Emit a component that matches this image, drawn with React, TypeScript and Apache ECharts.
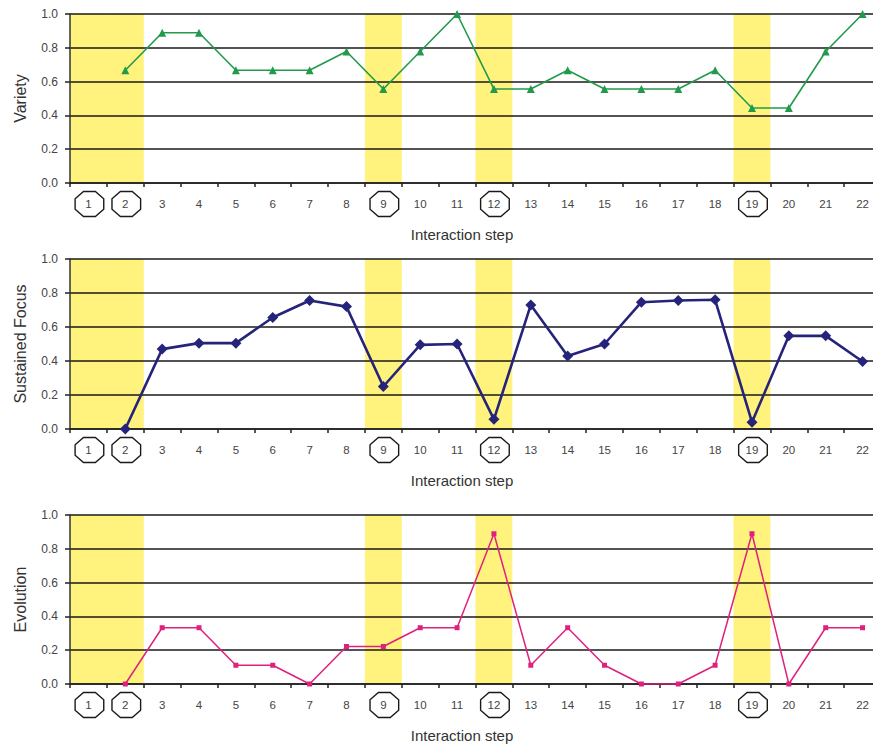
import React, { useEffect, useRef } from "react";
import * as echarts from "echarts";

const steps = ["1","2","3","4","5","6","7","8","9","10","11","12","13","14","15","16","17","18","19","20","21","22"];
const highlighted = ["1", "2", "9", "12", "19"];
const circled = ["1", "2", "9", "12", "19"];
const yTicks = [0, 0.2, 0.4, 0.6, 0.8, 1.0];

const variety = [null, 0.667, 0.889, 0.889, 0.667, 0.667, 0.667, 0.778, 0.556, 0.778, 1.0, 0.556, 0.556, 0.667, 0.556, 0.556, 0.556, 0.667, 0.444, 0.444, 0.778, 1.0];
const sustainedFocus = [null, 0.0, 0.47, 0.505, 0.505, 0.656, 0.756, 0.72, 0.25, 0.495, 0.5, 0.057, 0.73, 0.43, 0.5, 0.746, 0.756, 0.76, 0.04, 0.548, 0.548, 0.397];
const evolution = [null, 0.0, 0.333, 0.333, 0.111, 0.111, 0.0, 0.222, 0.222, 0.333, 0.333, 0.889, 0.111, 0.333, 0.111, 0.0, 0.0, 0.111, 0.889, 0.0, 0.333, 0.333];

const panelNames = ["Variety", "Sustained Focus", "Evolution"];
const xTitle = "Interaction step";

const FONT = "'Liberation Sans', Arial, sans-serif";
const YELLOW = "#fff27d";

export default function App() {
  const ref = useRef<HTMLDivElement>(null);
  useEffect(() => {
    if (!ref.current) return;
    const chart = echarts.init(ref.current, null, { renderer: "svg" });
    const grids = [
      { left: 70, right: 0, top: 14, height: 169 },
      { left: 70, right: 0, top: 259, height: 170 },
      { left: 70, right: 0, top: 515, height: 169 },
    ];
    const seriesDefs = [
      { data: variety, color: "#229a4c", symbol: "triangle", size: 8, width: 1.6 },
      { data: sustainedFocus, color: "#25247a", symbol: "diamond", size: 11, width: 2.6 },
      { data: evolution, color: "#e0207f", symbol: "rect", size: 5, width: 1.5 },
    ];
    const xAxes = grids.map((_, i) => ({
      type: "category",
      gridIndex: i,
      data: steps,
      boundaryGap: true,
      axisLine: { show: true, lineStyle: { color: "#222", width: 1.5 } },
      axisTick: { show: true, length: 4, lineStyle: { color: "#222", width: 1.5 } },
      axisLabel: { margin: 15, fontSize: 11.5, color: "#444", fontFamily: FONT },
      splitLine: { show: false },
      name: xTitle,
      nameLocation: "middle",
      nameGap: 44,
      nameTextStyle: { fontSize: 15, color: "#333", fontFamily: FONT, padding: [0, 27, 0, 0] },
    }));
    const yAxes = grids.map((_, i) => ({
      type: "value",
      gridIndex: i,
      min: 0,
      max: 1,
      interval: 0.2,
      axisLine: { show: true, lineStyle: { color: "#333", width: 1.5 } },
      axisTick: { show: true, length: 5, lineStyle: { color: "#222", width: 1.5 } },
      axisLabel: {
        margin: 12,
        fontSize: 12,
        color: "#444",
        fontFamily: FONT,
        formatter: (v: number) => (yTicks.includes(Math.round(v * 10) / 10) ? v.toFixed(1) : ""),
      },
      splitLine: { show: true, lineStyle: { color: "#1a1a1a", width: 1.5 } },
      name: panelNames[i],
      nameLocation: "middle",
      nameGap: 42,
      nameTextStyle: { fontSize: 16, color: "#333", fontFamily: FONT },
    }));
    const series: any[] = [];
    grids.forEach((_, i) => {
      series.push({
        type: "bar",
        xAxisIndex: i,
        yAxisIndex: i,
        data: steps.map((s) => (highlighted.includes(s) ? 1 : null)),
        barCategoryGap: "0%",
        barWidth: "100%",
        itemStyle: { color: YELLOW, borderColor: YELLOW, borderWidth: 1 },
        z: -1,
        silent: true,
      });
      const d = seriesDefs[i];
      series.push({
        type: "line",
        xAxisIndex: i,
        yAxisIndex: i,
        data: d.data,
        symbol: d.symbol,
        symbolSize: d.size,
        showAllSymbol: true,
        lineStyle: { color: d.color, width: d.width },
        itemStyle: { color: d.color },
        z: 5,
      });
      series.push({
        type: "custom",
        xAxisIndex: i,
        yAxisIndex: i,
        clip: false,
        silent: true,
        data: circled.map((c) => [c, 0]),
        renderItem: (params: any, api: any) => {
          const p = api.coord([api.value(0), 0]);
          const cx = p[0] + 1;
          const cy = p[1] + 21;
          const rx = 15.5;
          const ry = 13.5;
          const pts: number[][] = [];
          for (let k = 0; k < 8; k++) {
            const a = Math.PI / 8 + (k * Math.PI) / 4;
            pts.push([cx + rx * Math.cos(a), cy + ry * Math.sin(a)]);
          }
          return {
            type: "polygon",
            shape: { points: pts },
            style: { fill: "none", stroke: "#1a1a1a", lineWidth: 1.4 },
          };
        },
        z: 6,
      });
    });
    chart.setOption({
      animation: false,
      backgroundColor: "#ffffff",
      textStyle: { fontFamily: FONT },
      grid: grids,
      xAxis: xAxes,
      yAxis: yAxes,
      series,
    });
    return () => chart.dispose();
  }, []);
  return (
    <div
      ref={ref}
      style={{ position: "fixed", left: 0, top: 0, width: 881, height: 744, background: "#fff" }}
    />
  );
}
